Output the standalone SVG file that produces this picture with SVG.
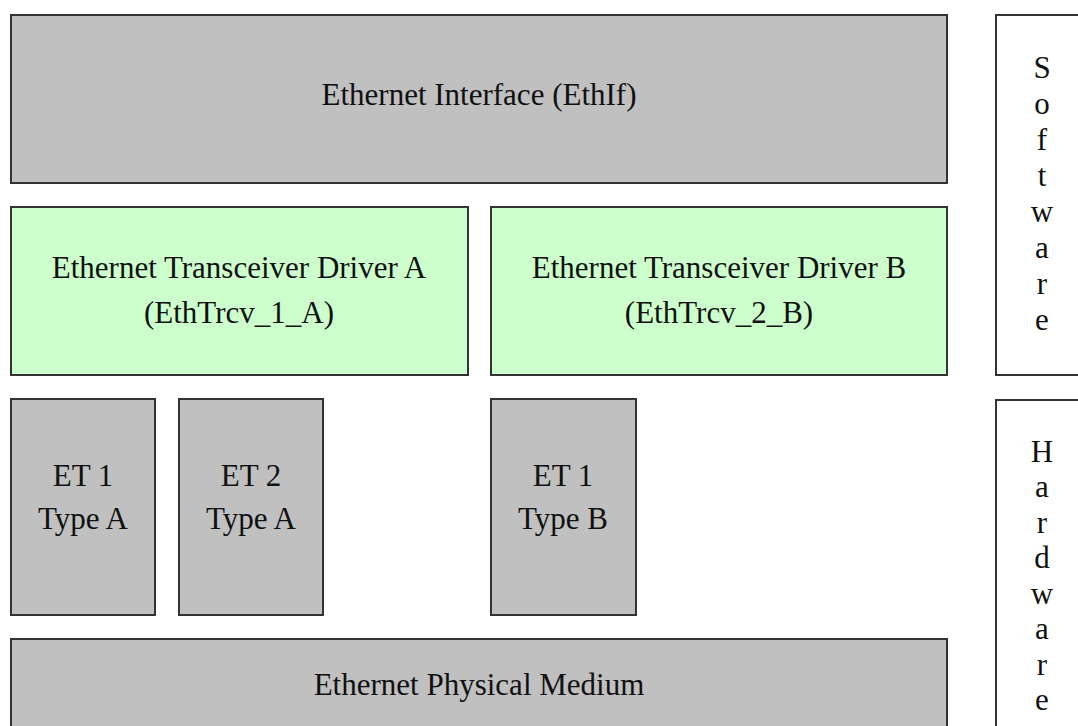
<svg xmlns="http://www.w3.org/2000/svg" width="1078" height="726" viewBox="0 0 1078 726">
<style>
.box{stroke:#333;stroke-width:2}
.gray{fill:#c0c0c0}
.green{fill:#ccffcc}
.white{fill:#fff}
text{font-family:"Liberation Serif","Times New Roman",serif;font-size:31px;fill:#111;text-anchor:middle}
</style>
<rect width="1078" height="726" fill="#fff"/>
<g id="ethif">
<rect class="box gray" x="11" y="15" width="936" height="168"/>
<text x="479" y="105">Ethernet Interface (EthIf)</text>
</g>
<g id="drvA">
<rect class="box green" x="11" y="207" width="457" height="168"/>
<text x="239" y="278">Ethernet Transceiver Driver A</text>
<text x="239" y="323">(EthTrcv_1_A)</text>
</g>
<g id="drvB">
<rect class="box green" x="491" y="207" width="456" height="168"/>
<text x="719" y="278">Ethernet Transceiver Driver B</text>
<text x="719" y="323">(EthTrcv_2_B)</text>
</g>
<g id="et1a">
<rect class="box gray" x="11" y="399" width="144" height="216"/>
<text x="83" y="486">ET 1</text>
<text x="83" y="529">Type A</text>
</g>
<g id="et2a">
<rect class="box gray" x="179" y="399" width="144" height="216"/>
<text x="251" y="486">ET 2</text>
<text x="251" y="529">Type A</text>
</g>
<g id="et1b">
<rect class="box gray" x="491" y="399" width="145" height="216"/>
<text x="563" y="486">ET 1</text>
<text x="563" y="529">Type B</text>
</g>
<g id="phy">
<rect class="box gray" x="11" y="639" width="936" height="100"/>
<text x="479" y="695">Ethernet Physical Medium</text>
</g>
<g id="software">
<rect class="box white" x="996" y="15" width="100" height="360"/>
<text x="1042" y="78">S</text>
<text x="1042" y="114">o</text>
<text x="1042" y="150">f</text>
<text x="1042" y="186">t</text>
<text x="1042" y="222">w</text>
<text x="1042" y="258">a</text>
<text x="1042" y="294">r</text>
<text x="1042" y="330">e</text>
</g>
<g id="hardware">
<rect class="box white" x="996" y="400" width="100" height="340"/>
<text x="1042" y="462">H</text>
<text x="1042" y="497">a</text>
<text x="1042" y="533">r</text>
<text x="1042" y="568">d</text>
<text x="1042" y="604">w</text>
<text x="1042" y="639">a</text>
<text x="1042" y="675">r</text>
<text x="1042" y="710">e</text>
</g>
<g id="connectors"></g>
</svg>
